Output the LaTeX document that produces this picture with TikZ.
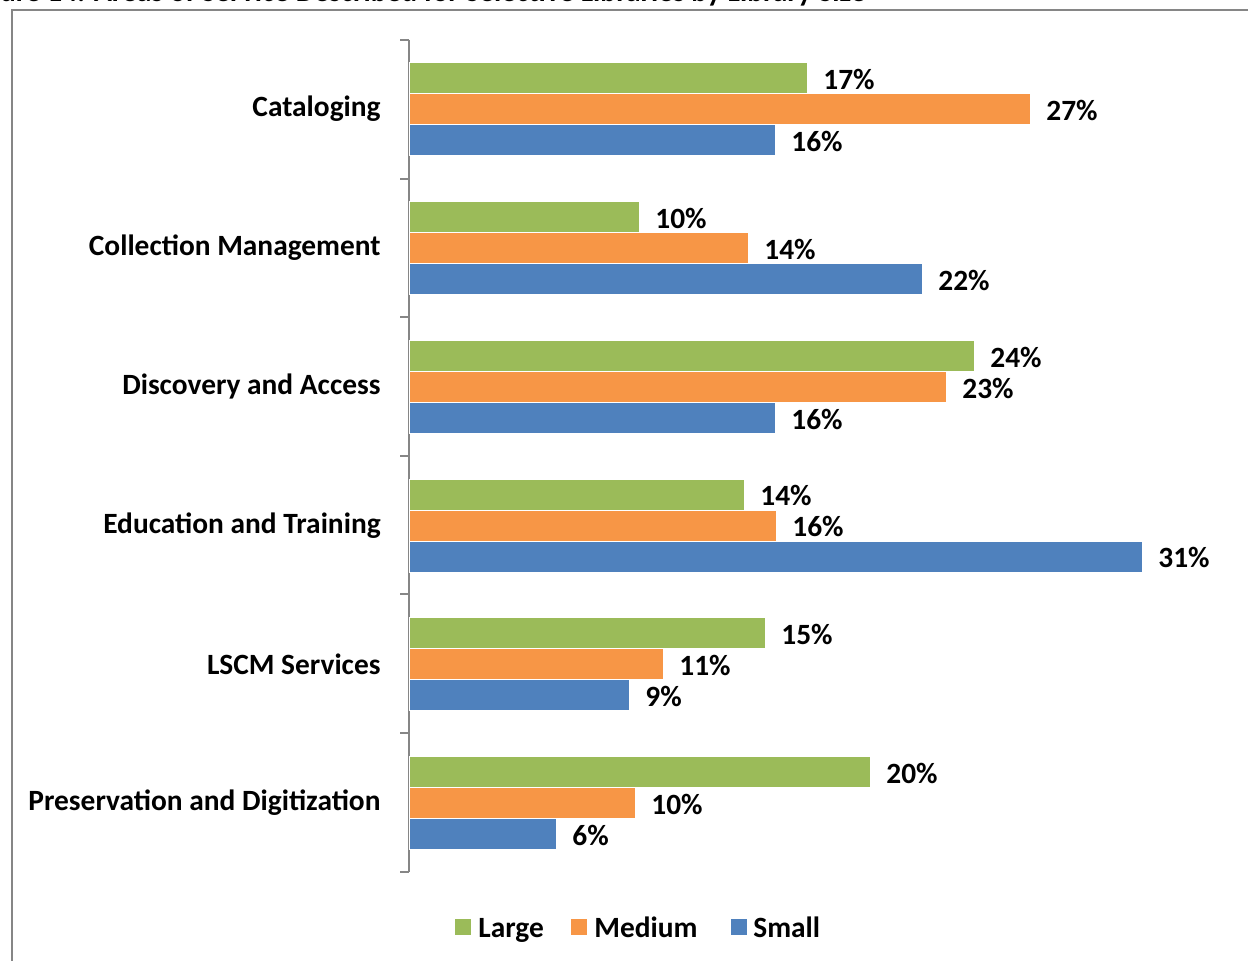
\documentclass[tikz,border=0pt]{standalone}
\usepackage{fontspec}
\setmainfont{Carlito}
\usepackage{tikz}
\usepackage{xcolor}
\usetikzlibrary{positioning}
\definecolor{mygreen}{RGB}{155, 187, 89}
\definecolor{myorange}{RGB}{247, 150, 70}
\definecolor{myblue}{RGB}{79, 129, 189}
\definecolor{mygray}{RGB}{134, 134, 134}

\begin{document}
\begin{tikzpicture}[
    x=0.5pt, y=-0.5pt,
    every node/.style={font=\fontsize{14.7}{17}\selectfont\bfseries},
    large/.style={fill=mygreen, draw=white, line width=0.4pt},
    medium/.style={fill=myorange, draw=white, line width=0.4pt},
    small/.style={fill=myblue, draw=white, line width=0.4pt},
    pct/.style={anchor=west, inner sep=0pt},
    cat/.style={anchor=east, inner sep=0pt},
    axis/.style={draw=mygray, line width=0.8pt},
    key/.style={inner sep=0pt, minimum size=8pt},
    keytext/.style={anchor=base west, inner sep=0pt}
]
\useasboundingbox (0,0) rectangle (1248,961);
\clip (0,0) rectangle (1248,961);

% Title and frame
\node[anchor=base west, inner sep=0pt] (title) at (-35,2) {Figure 14: Areas of Service Described for Selective Libraries by Library Size};
\draw[mygray, line width=1pt] (12,985) -- (12,10) -- (1270,10);

% Axis
\draw[axis] (409,40) -- (409,872);
\draw[axis] (400,40) -- (409,40);
\draw[axis] (400,179) -- (409,179);
\draw[axis] (400,317) -- (409,317);
\draw[axis] (400,456) -- (409,456);
\draw[axis] (400,594) -- (409,594);
\draw[axis] (400,733) -- (409,733);
\draw[axis] (400,872) -- (409,872);

% Cataloging
\node[cat] (cataloging) at (381,109) {Cataloging};
\fill[large] (409,62.8) rectangle (807,93.8);
\fill[medium] (409,93.8) rectangle (1030,124.8);
\fill[small] (409,124.8) rectangle (775,155.8);
\node[pct] (cat1) at (823,79) {17\%};
\node[pct] (cat2) at (1046,110) {27\%};
\node[pct] (cat3) at (791,141) {16\%};

% Collection Management
\node[cat] (collection) at (381,248) {Collection Management};
\fill[large] (409,201.5) rectangle (639,232.5);
\fill[medium] (409,232.5) rectangle (748,263.5);
\fill[small] (409,263.5) rectangle (922,294.5);
\node[pct] (col1) at (655,218) {10\%};
\node[pct] (col2) at (764,249) {14\%};
\node[pct] (col3) at (938,280) {22\%};

% Discovery and Access
\node[cat] (discovery) at (381,387) {Discovery and Access};
\fill[large] (409,340.2) rectangle (974,371.2);
\fill[medium] (409,371.2) rectangle (946,402.2);
\fill[small] (409,402.2) rectangle (775,433.2);
\node[pct] (dis1) at (990,357) {24\%};
\node[pct] (dis2) at (962,388) {23\%};
\node[pct] (dis3) at (791,419) {16\%};

% Education and Training
\node[cat] (education) at (381,525.5) {Education and Training};
\fill[large] (409,479) rectangle (744,510);
\fill[medium] (409,510) rectangle (776,541);
\fill[small] (409,541) rectangle (1142,572);
\node[pct] (edu1) at (760,495.5) {14\%};
\node[pct] (edu2) at (792,526.5) {16\%};
\node[pct] (edu3) at (1158,557.5) {31\%};

% LSCM Services
\node[cat] (lscm) at (381,664) {LSCM Services};
\fill[large] (409,617.5) rectangle (765,648.5);
\fill[medium] (409,648.5) rectangle (663,679.5);
\fill[small] (409,679.5) rectangle (629,710.5);
\node[pct] (lsc1) at (781,634) {15\%};
\node[pct] (lsc2) at (679,665) {11\%};
\node[pct] (lsc3) at (645,696) {9\%};

% Preservation and Digitization
\node[cat] (preservation) at (381,803) {Preservation and Digitization};
\fill[large] (409,756.3) rectangle (870,787.3);
\fill[medium] (409,787.3) rectangle (635,818.3);
\fill[small] (409,818.3) rectangle (556,849.3);
\node[pct] (pre1) at (886,773) {20\%};
\node[pct] (pre2) at (651,804) {10\%};
\node[pct] (pre3) at (572,835) {6\%};

% Legend
\node[key, fill=mygreen] (klarge) at (463,927) {};
\node[keytext] (tlarge) at (478,937) {Large};
\node[key, fill=myorange] (kmedium) at (578.5,927) {};
\node[keytext] (tmedium) at (594,937) {Medium};
\node[key, fill=myblue] (ksmall) at (738.5,927) {};
\node[keytext] (tsmall) at (753,937) {Small};

\end{tikzpicture}
\end{document}
